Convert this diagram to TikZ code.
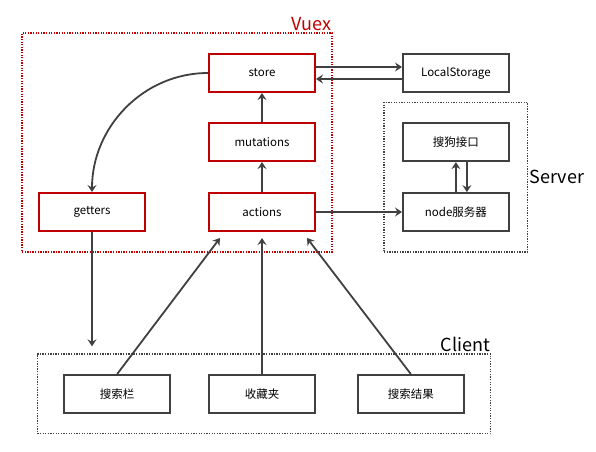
\documentclass[tikz,border=0pt]{standalone}
\usepackage{fontspec}
\setmainfont{Noto Sans CJK SC}
\usetikzlibrary{positioning,arrows.meta,fit,calc}
\definecolor{vuexred}{RGB}{192,0,0}
\definecolor{linegray}{RGB}{64,64,64}
\tikzset{
	>={Stealth[length=7pt, width=9pt, inset=2.5pt]}
}

\begin{document}
\begin{tikzpicture}[
	every node/.style = {
		font = \fontsize{11.5}{14}\selectfont
	},
	vuexbox/.style = {
		draw = vuexred,
		line width = 2pt,
		minimum height = 38pt,
		minimum width = 106pt
	},
	plainbox/.style = {
		draw = linegray,
		line width = 1.8pt,
		minimum height = 38pt,
		minimum width = 106pt
	},
	group/.style = {
		draw = linegray,
		line width = 1.3pt,
		dash pattern = on 1.3pt off 1.3pt,
		inner ysep = 20pt
	},
	title/.style = {
		font = \fontsize{18}{20}\selectfont,
		inner sep = 1pt
	},
	link/.style = {
		->,
		draw = linegray,
		line width = 1.8pt
	}
	]
	
	\useasboundingbox (0,0) rectangle (596pt,-451pt);
	
	\node (store) [vuexbox] at (262pt,-73pt) {store};
	\node (mutations) [vuexbox, below = 29pt of store] {mutations};
	\node (actions) [vuexbox, below = 30pt of mutations] {actions};
	\node (getters) [vuexbox, left = 62pt of actions] {getters};
	
	\node (local_storage) [plainbox, right = 86pt of store] {LocalStorage};
	\node (node_server) [plainbox, right = 86pt of actions] {node服务器};
	\node (sogou_api) [plainbox, above = 30pt of node_server] {搜狗接口};
	
	\node (favorites) [plainbox, below = 142pt of actions] {收藏夹};
	\node (search_bar) [plainbox, left = 37pt of favorites] {搜索栏};
	\node (search_result) [plainbox, right = 41pt of favorites] {搜索结果};
	
	\node[group, draw=vuexred, inner xsep=16pt, fit=(store)(getters)(actions)] (vuex_box) {};
	\node[title, text=vuexred, anchor=south east] (vuex_title) at (vuex_box.north east) {Vuex};
	\node[group, inner xsep=18pt, fit=(sogou_api)(node_server)] (server_box) {};
	\node[title, right=0pt of server_box] (server_title) {Server};
	\node[group, inner xsep=26pt, fit=(search_bar)(search_result)] (client_box) {};
	\node[title, anchor=south east] (client_title) at (client_box.north east) {Client};
	
	\draw[link] (store.west) to[out=180, in=90] (getters.north);
	\draw[link] (actions) -- (mutations);
	\draw[link] (mutations) -- (store);
	\draw[link] ([yshift=6pt]store.east) -- ([yshift=6pt]local_storage.west);
	\draw[link] ([yshift=-6pt]local_storage.west) -- ([yshift=-6pt]store.east);
	\draw[link] (actions) -- (node_server);
	\draw[link] (node_server.north) -- (sogou_api.south);
	\draw[link] ([xshift=11pt]sogou_api.south) -- ([xshift=11pt]node_server.north);
	
	\draw[link] (getters.south) -- ([yshift=7pt]getters.south |- client_box.north);
	\draw[link] (search_bar.north) -- ([xshift=-42pt,yshift=-6pt]actions.south);
	\draw[link] (favorites.north) -- ([yshift=-6pt]actions.south);
	\draw[link] (search_result.north) -- ([xshift=45pt,yshift=-6pt]actions.south);
	
\end{tikzpicture}
\end{document}
